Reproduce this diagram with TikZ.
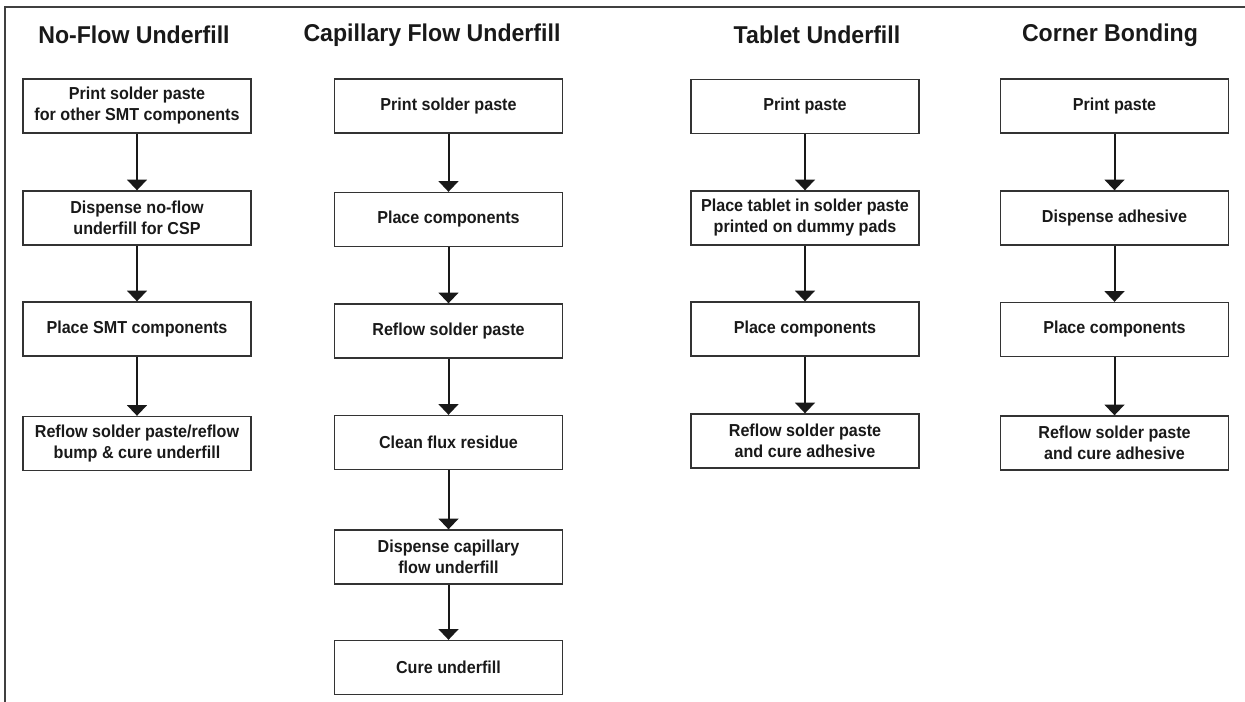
\documentclass[tikz,border=0pt]{standalone}
\usepackage{fontspec}
\setmainfont{Liberation Sans}
\newfontfamily\boxfont[FakeStretch=0.93]{Liberation Sans}
\newfontfamily\titlefont[FakeStretch=0.95]{Liberation Sans}
\usetikzlibrary{arrows.meta}
\tikzset{
    stepbox/.style={draw=black!80, line width=0.8pt, minimum width=136.8pt,
        minimum height=32.4pt, align=center, inner sep=2pt, text=black!90,
        font=\boxfont\bfseries\fontsize{10.4}{12.6}\selectfont},
    coltitle/.style={text=black!90, font=\titlefont\bfseries\fontsize{14.6}{17}\selectfont},
    flow/.style={-{Triangle[width=12pt,length=6.5pt]}, line width=1.2pt, black!90},
}
\begin{document}
\begin{tikzpicture}[x=0.6pt, y=-0.6pt]
        \useasboundingbox (0,0) rectangle (1245,702);
        % Cornice
        \draw[black!75, line width=1.2pt] (5,702) -- (5,7) -- (1245,7);

        % Titoli delle colonne
        \node[coltitle] (tnf) at (134,35) {No-Flow Underfill};
        \node[coltitle] (tcf) at (432,35) {Capillary Flow Underfill};
        \node[coltitle] (ttu) at (817,35) {Tablet Underfill};
        \node[coltitle] (tcb) at (1110,35) {Corner Bonding};

        % No-flow underfill
        \node[stepbox] (nf1) at (137,106) {Print solder paste\\for other SMT components};
        \node[stepbox] (nf2) at (137,218) {Dispense no-flow\\underfill for CSP};
        \node[stepbox] (nf3) at (137,329) {Place SMT components};
        \node[stepbox] (nf4) at (137,443.5) {Reflow solder paste/reflow\\bump \& cure underfill};

        % Capillary flow underfill
        \node[stepbox] (cf1) at (448.5,106) {Print solder paste};
        \node[stepbox] (cf2) at (448.5,219.5) {Place components};
        \node[stepbox] (cf3) at (448.5,331) {Reflow solder paste};
        \node[stepbox] (cf4) at (448.5,442.5) {Clean flux residue};
        \node[stepbox] (cf5) at (448.5,557) {Dispense capillary\\flow underfill};
        \node[stepbox] (cf6) at (448.5,667.5) {Cure underfill};

        % Tablet underfill
        \node[stepbox] (tu1) at (805,106.5) {Print paste};
        \node[stepbox] (tu2) at (805,218) {Place tablet in solder paste\\printed on dummy pads};
        \node[stepbox] (tu3) at (805,329) {Place components};
        \node[stepbox] (tu4) at (805,441) {Reflow solder paste\\and cure adhesive};

        % Corner bonding
        \node[stepbox] (cb1) at (1114.5,106) {Print paste};
        \node[stepbox] (cb2) at (1114.5,218) {Dispense adhesive};
        \node[stepbox] (cb3) at (1114.5,329.5) {Place components};
        \node[stepbox] (cb4) at (1114.5,443) {Reflow solder paste\\and cure adhesive};

        % Frecce tra i passi
        \foreach \a/\b in {nf1/nf2, nf2/nf3, nf3/nf4,
                           cf1/cf2, cf2/cf3, cf3/cf4, cf4/cf5, cf5/cf6,
                           tu1/tu2, tu2/tu3, tu3/tu4,
                           cb1/cb2, cb2/cb3, cb3/cb4} {
            \draw[flow] (\a) -- (\b);
        }
    \end{tikzpicture}
\end{document}
